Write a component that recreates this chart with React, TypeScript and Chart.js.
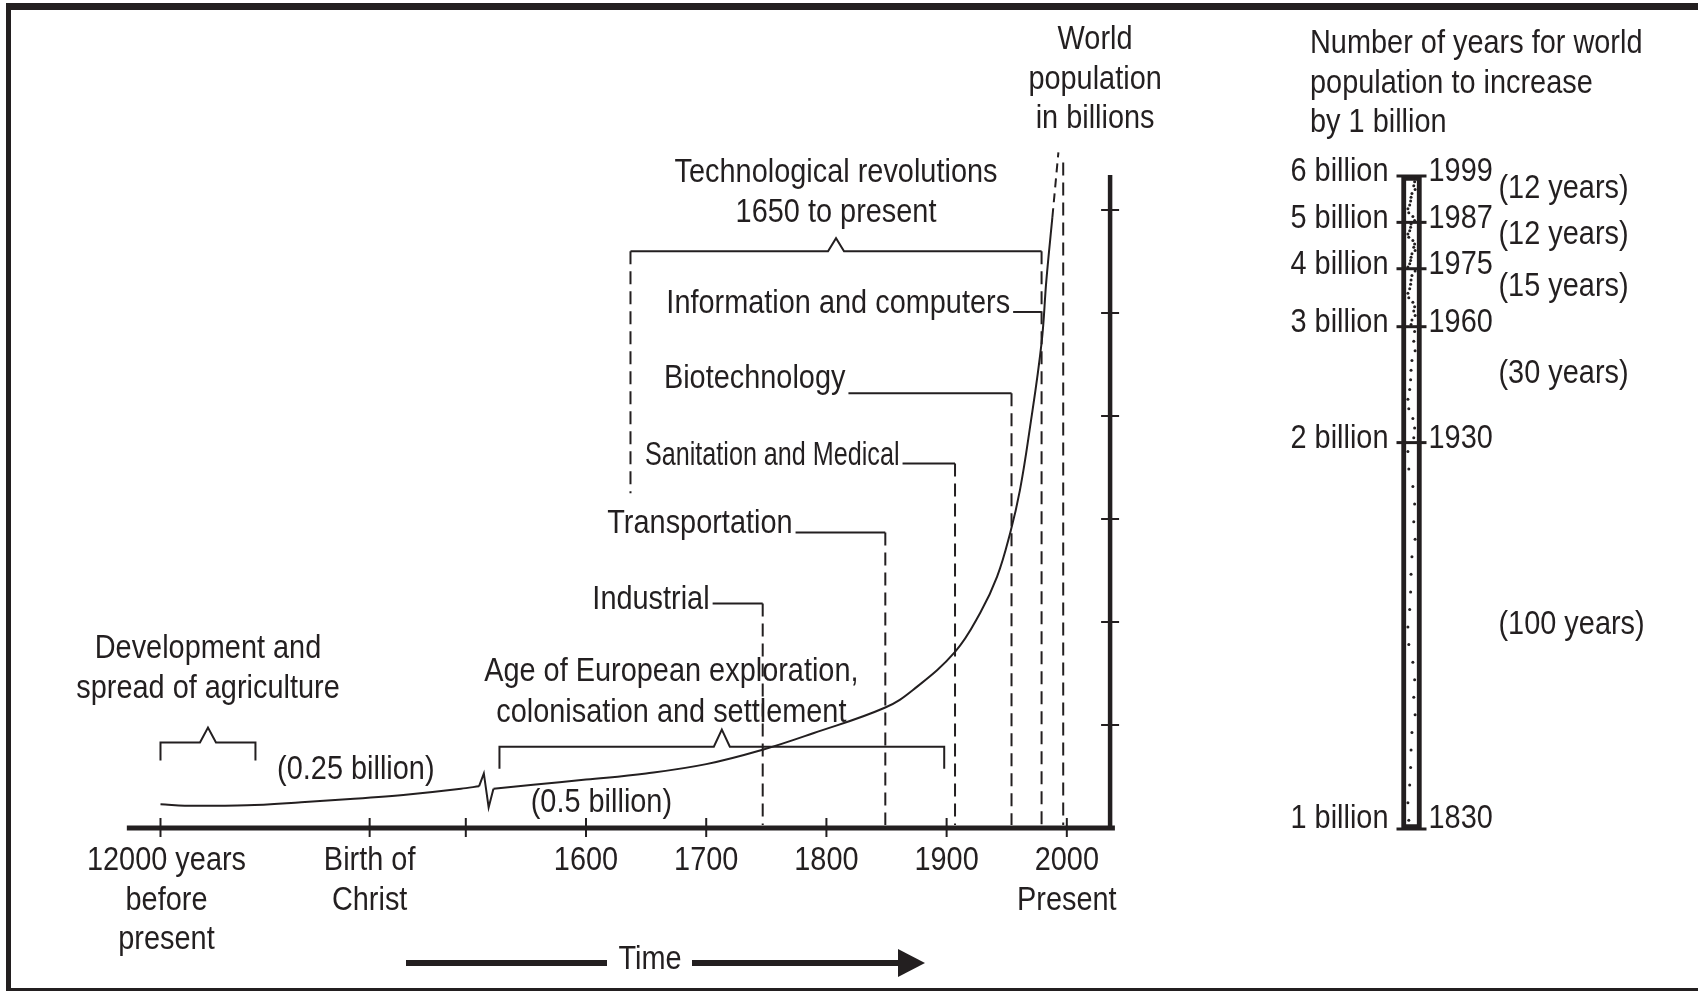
import React, { useEffect, useRef } from 'react';
import { Chart, registerables } from 'chart.js';
Chart.register(...registerables);

const W = 1698;
const H = 993;
const INK = '#231f20';
const FONT = '"Liberation Sans", Arial, Helvetica, sans-serif';
const SQUEEZE = 0.85;

// ---------- main timeline data ----------
// x = year; the two ancient marks sit on compressed pseudo-years left of the axis break
const xTickValues = [1246, 1420, 1500, 1600, 1700, 1800, 1900, 2000];
const xTickLabels: string[][] = [
  ['12000 years', 'before', 'present'],
  ['Birth of', 'Christ'],
  [],
  ['1600'],
  ['1700'],
  ['1800'],
  ['1900'],
  ['2000', 'Present'],
];
const yTickValues = [1, 2, 3, 4, 5, 6];

// world population curve (billions)
const ancientYears = [1246, 1274, 1318, 1363, 1407, 1452, 1496, 1511];
const ancientPop = [0.23, 0.215, 0.22, 0.25, 0.284, 0.326, 0.381, 0.405];
const breakYears = [1511, 1515, 1519, 1523];
const breakPop = [0.405, 0.53, 0.2, 0.38];
const modernYears = [1523, 1556, 1600, 1650, 1700, 1747, 1789, 1849, 1872, 1907, 1928, 1942, 1953, 1961, 1969, 1979, 1983, 1988];
const modernPop = [0.38, 0.42, 0.47, 0.53, 0.62, 0.76, 0.92, 1.17, 1.34, 1.71, 2.09, 2.44, 2.87, 3.28, 3.86, 4.71, 5.32, 5.93];
const projectionYears = [1988, 1993];
const projectionPop = [5.93, 6.56];

// technological revolutions
const eraNames = ['Industrial', 'Transportation', 'Sanitation and Medical', 'Biotechnology', 'Information and computers'];
const eraYears = [1747, 1849, 1907, 1954, 1979];
const eraLevels = [2.18, 2.87, 3.54, 4.22, 5.01];
const eraLabelEndYears = [1702, 1771, 1860, 1815, 1952];
const techSpan = [1637, 1979];
const techLevel = 5.6;
const techDashBottom = 3.25;
const exploreSpan = [1528, 1898];
const exploreLevel = 0.79;
const agriSpan = [1246, 1325];
const agriLevel = 0.83;
const presentYear = 1997;
const presentTop = 6.46;

// ---------- side panel data ----------
const milestoneYears = [1830, 1930, 1960, 1975, 1987, 1999];
const milestoneLabels = ['1 billion', '2 billion', '3 billion', '4 billion', '5 billion', '6 billion'];

const pts = (xs: number[], ys: number[]) => xs.map((x, i) => ({ x, y: ys[i] }));

function line(ctx: CanvasRenderingContext2D, x1: number, y1: number, x2: number, y2: number) {
  ctx.beginPath();
  ctx.moveTo(x1, y1);
  ctx.lineTo(x2, y2);
  ctx.stroke();
}

function text(ctx: CanvasRenderingContext2D, s: string, x: number, y: number, align: CanvasTextAlign, squeeze = SQUEEZE) {
  ctx.save();
  ctx.translate(x, y);
  ctx.scale(squeeze, 1);
  ctx.font = `34px ${FONT}`;
  ctx.fillStyle = INK;
  ctx.textAlign = align;
  ctx.textBaseline = 'middle';
  ctx.fillText(s, 0, 0);
  ctx.restore();
}

function bracket(ctx: CanvasRenderingContext2D, x1: number, x2: number, y: number, drop: number, rise: number) {
  const cx = (x1 + x2) / 2;
  ctx.beginPath();
  ctx.moveTo(x1, y + drop);
  ctx.lineTo(x1, y);
  ctx.lineTo(cx - 8, y);
  ctx.lineTo(cx, y - rise);
  ctx.lineTo(cx + 8, y);
  ctx.lineTo(x2, y);
  ctx.lineTo(x2, y + drop);
  ctx.stroke();
}

const mainDecor = {
  id: 'mainDecor',
  afterDraw(chart: any) {
    const ctx: CanvasRenderingContext2D = chart.ctx;
    const X = (v: number) => chart.scales.x.getPixelForValue(v);
    const Y = (v: number) => chart.scales.y.getPixelForValue(v);
    ctx.save();
    ctx.fillStyle = INK;
    ctx.strokeStyle = INK;
    ctx.lineCap = 'butt';

    // frame
    ctx.fillRect(6, 3, W - 6, 7);
    ctx.fillRect(6, 3, 5, 988);
    ctx.fillRect(6, 988, W - 6, 3);

    // axes
    ctx.lineWidth = 5;
    line(ctx, X(1218), Y(0), X(2040), Y(0));
    ctx.lineWidth = 4.5;
    line(ctx, X(2036), Y(0) + 2, X(2036), Y(6.34));
    ctx.lineWidth = 2;
    xTickValues.forEach((v) => line(ctx, X(v), Y(0) - 10, X(v), Y(0) + 9));
    yTickValues.forEach((v) => line(ctx, X(2036) - 9, Y(v), X(2036) + 9, Y(v)));

    xTickLabels.forEach((lines, i) => {
      lines.forEach((s, j) => text(ctx, s, X(xTickValues[i]) + (i === 0 ? 6 : 0), Y(0) + 33 + j * 39.5, 'center'));
    });

    // y title
    ['World', 'population', 'in billions'].forEach((s, j) => text(ctx, s, X(2036) - 15, 40 + j * 39.5, 'center'));

    // dashed verticals
    ctx.lineWidth = 2;
    ctx.setLineDash([13, 7]);
    eraYears.forEach((yr, i) => {
      const top = i === eraYears.length - 1 ? techLevel : eraLevels[i];
      line(ctx, X(yr), Y(top), X(yr), Y(0) - 3);
    });
    line(ctx, X(techSpan[0]), Y(techLevel), X(techSpan[0]), Y(techDashBottom));
    line(ctx, X(presentYear), Y(presentTop), X(presentYear), Y(0) - 3);
    ctx.setLineDash([]);

    // leaders + era labels
    const labelLift = [3.5, 8.5, 7.5, 15, 8];
    eraNames.forEach((name, i) => {
      const xe = X(eraLabelEndYears[i]);
      line(ctx, xe + 4, Y(eraLevels[i]), X(eraYears[i]), Y(eraLevels[i]));
      text(ctx, name, xe + 1, Y(eraLevels[i]) - labelLift[i], 'right', name.startsWith('Sanitation') ? 0.74 : SQUEEZE);
    });

    // brackets
    bracket(ctx, X(techSpan[0]), X(techSpan[1]), Y(techLevel), 0, 13);
    bracket(ctx, X(exploreSpan[0]), X(exploreSpan[1]), Y(exploreLevel), 22, 17);
    bracket(ctx, X(agriSpan[0]), X(agriSpan[1]), Y(agriLevel), 18, 15);

    const techCx = X((techSpan[0] + techSpan[1]) / 2);
    text(ctx, 'Technological revolutions', techCx, Y(techLevel) - 79, 'center');
    text(ctx, '1650 to present', techCx, Y(techLevel) - 39, 'center');
    text(ctx, 'Age of European exploration,', X(1671), Y(exploreLevel) - 75, 'center');
    text(ctx, 'colonisation and settlement', X(1671), Y(exploreLevel) - 34, 'center');
    const agriCx = X((agriSpan[0] + agriSpan[1]) / 2);
    text(ctx, 'Development and', agriCx, Y(agriLevel) - 94, 'center');
    text(ctx, 'spread of agriculture', agriCx, Y(agriLevel) - 54, 'center');

    text(ctx, '(0.25 billion)', X(1343), Y(0.57), 'left');
    text(ctx, '(0.5 billion)', X(1554), Y(0.25), 'left');

    // time arrow
    ctx.lineWidth = 6;
    line(ctx, 406, 963, 607, 963);
    line(ctx, 692, 963, 902, 963);
    ctx.beginPath();
    ctx.moveTo(925, 963);
    ctx.lineTo(898, 949);
    ctx.lineTo(898, 977);
    ctx.closePath();
    ctx.fill();
    text(ctx, 'Time', 650, 960, 'center');
    ctx.restore();
  },
};

const sideDecor = {
  id: 'sideDecor',
  afterDatasetsDraw(chart: any) {
    const ctx: CanvasRenderingContext2D = chart.ctx;
    const Y = (v: number) => chart.scales.y.getPixelForValue(v);
    const bar = chart.getDatasetMeta(0).data[0];
    const cx = bar.x;
    ctx.save();
    ctx.fillStyle = INK;
    ctx.strokeStyle = INK;

    // dotted texture (denser in the short, recent intervals)
    const dotCounts = [22, 12, 13, 14, 12];
    const jitter = [0.2, 0.75, 0.45, 0.1, 0.85, 0.55, 0.3, 0.65, 0.9, 0.4];
    for (let k = 0; k < milestoneYears.length - 1; k++) {
      const lo = milestoneYears[k];
      const hi = milestoneYears[k + 1];
      const n = dotCounts[k];
      for (let j = 0; j < n; j++) {
        const yr = lo + ((j + 0.5) / n) * (hi - lo);
        const x = cx - 4.5 + jitter[(j * 3 + k) % jitter.length] * 9;
        ctx.beginPath();
        ctx.arc(x, Y(yr), 1.5, 0, Math.PI * 2);
        ctx.fill();
      }
    }

    ctx.lineWidth = 3;
    milestoneYears.forEach((yr) => line(ctx, cx - 15, Y(yr), cx + 15, Y(yr)));
    milestoneYears.forEach((yr, i) => {
      const lift = i === 0 ? 10 : 4;
      text(ctx, milestoneLabels[i], cx - 23, Y(yr) - lift, 'right');
      text(ctx, String(yr), cx + 17, Y(yr) - lift, 'left');
    });
    for (let i = 1; i < milestoneYears.length; i++) {
      const mid = (milestoneYears[i - 1] + milestoneYears[i]) / 2;
      text(ctx, `(${milestoneYears[i] - milestoneYears[i - 1]} years)`, cx + 87, Y(mid) - 11, 'left');
    }
    ['Number of years for world', 'population to increase', 'by 1 billion'].forEach((s, j) =>
      text(ctx, s, 1310, 44 + j * 39.5, 'left'),
    );
    ctx.restore();
  },
};

export default function App() {
  const mainRef = useRef<HTMLCanvasElement>(null);
  const sideRef = useRef<HTMLCanvasElement>(null);

  useEffect(() => {
    const curveStyle = { borderColor: INK, borderWidth: 2, pointRadius: 0, fill: false };
    const c1 = new Chart(mainRef.current as HTMLCanvasElement, {
      type: 'line',
      data: {
        datasets: [
          { ...curveStyle, data: pts(ancientYears, ancientPop), cubicInterpolationMode: 'monotone' },
          { ...curveStyle, data: pts(breakYears, breakPop), tension: 0 },
          { ...curveStyle, data: pts(modernYears, modernPop), tension: 0.4 },
          { ...curveStyle, data: pts(projectionYears, projectionPop), tension: 0, borderDash: [9, 6] },
        ] as any,
      },
      options: {
        responsive: false,
        animation: false,
        events: [],
        layout: { padding: { left: 105.2, right: W - 1114.9, top: 107, bottom: H - 828 } },
        scales: {
          x: { type: 'linear', min: 1200, max: 2040, display: false },
          y: { type: 'linear', min: 0, max: 7, display: false },
        },
        plugins: { legend: { display: false }, tooltip: { enabled: false } },
      },
      plugins: [mainDecor],
    });

    const pxPerYear = (829 - 176) / (1999 - 1830);
    const c2 = new Chart(sideRef.current as HTMLCanvasElement, {
      type: 'bar',
      data: {
        labels: ['population'],
        datasets: [
          {
            data: [[milestoneYears[0], milestoneYears[milestoneYears.length - 1]]] as any,
            backgroundColor: '#ffffff',
            borderColor: INK,
            borderWidth: 5,
            borderSkipped: false,
            barThickness: 20,
          },
        ],
      },
      options: {
        responsive: false,
        animation: false,
        events: [],
        layout: {
          padding: {
            left: 1391.5,
            right: W - 1431.5,
            top: 176 - (2010 - 1999) * pxPerYear,
            bottom: H - (829 + (1830 - 1820) * pxPerYear),
          },
        },
        scales: {
          x: { display: false },
          y: { type: 'linear', min: 1820, max: 2010, display: false },
        },
        plugins: { legend: { display: false }, tooltip: { enabled: false } },
      },
      plugins: [sideDecor],
    });

    return () => {
      c1.destroy();
      c2.destroy();
    };
  }, []);

  const cs: React.CSSProperties = { position: 'absolute', left: 0, top: 0, width: W, height: H };
  return (
    <div style={{ position: 'fixed', left: 0, top: 0, width: W, height: H, background: '#ffffff', overflow: 'hidden' }}>
      <canvas ref={mainRef} width={W} height={H} style={cs} />
      <canvas ref={sideRef} width={W} height={H} style={cs} />
    </div>
  );
}
